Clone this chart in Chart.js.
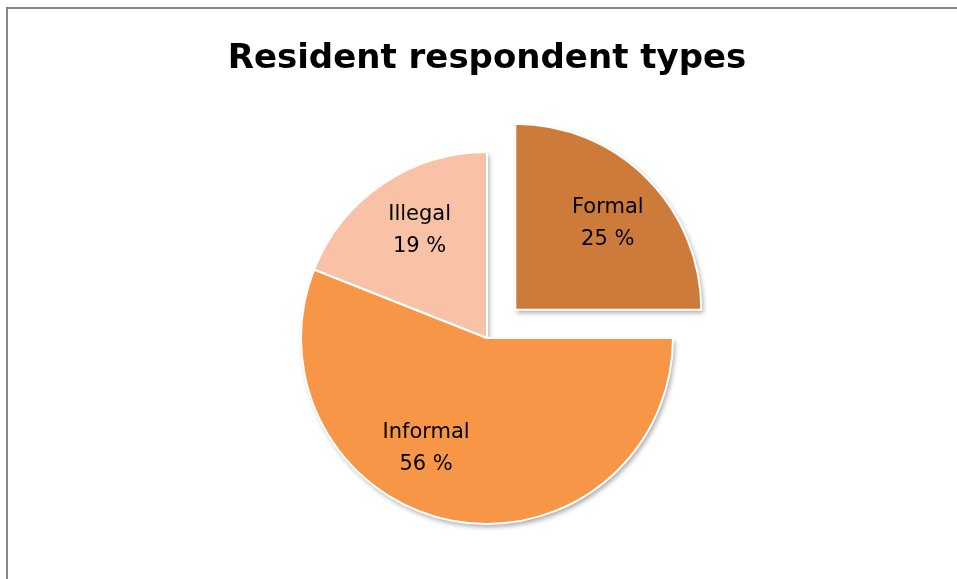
<!DOCTYPE html>
<html>
<head>
<meta charset="utf-8" />
<title>Resident respondent types</title>
<script src="https://cdn.jsdelivr.net/npm/chart.js@4.4.1/dist/chart.umd.min.js"></script>
<style>
  html,
  body {
    margin: 0;
    padding: 0;
    background: #ffffff;
    overflow: hidden;
  }
  #frame {
    position: absolute;
    left: 6px;
    top: 7px;
    width: 1000px;
    height: 700px;
    border-left: 2px solid #888888;
    border-top: 2px solid #888888;
  }
  #chart-container {
    position: absolute;
    left: 0;
    top: 0;
    width: 957px;
    height: 579px;
  }
</style>
</head>
<body>
<div id="frame"></div>
<div id="chart-container">
  <canvas id="pie-chart" width="957" height="579"></canvas>
</div>
<script>
// -----------DATA----------
const chartTitle = "Resident respondent types";
const chartLabels = ["Formal", "Informal", "Illegal"];
const chartData = [25, 56, 19];

// Slice colours (same order as labels)
const sliceColors = ["#CD7B3A", "#F79646", "#F9C1A6"];
// only "Formal" is pulled out of the pie (pixels)
const sliceOffsets = [40, 0, 0];

// Plugin - soft shadow under the slices (drawn first, fill only, so the white borders stay clean)
const shadowPlugin = {
  id: "sliceShadow",
  beforeDatasetsDraw(chart) {
    const ctx = chart.ctx;
    const meta = chart.getDatasetMeta(0);
    ctx.save();
    ctx.shadowColor = "rgba(0, 0, 0, 0.35)";
    ctx.shadowBlur = 5;
    ctx.shadowOffsetX = 2;
    ctx.shadowOffsetY = 3;
    meta.data.forEach((arc) => {
      const opts = arc.options;
      arc.options = Object.assign({}, opts, { borderWidth: 0 });
      arc.draw(ctx, chart.chartArea);
      arc.options = opts;
    });
    ctx.restore();
  },
};

// Plugin - "Label\nNN %" inside every slice, placed from the arc geometry
const sliceLabelPlugin = {
  id: "sliceLabels",
  afterDatasetsDraw(chart, args, opts) {
    const ctx = chart.ctx;
    const meta = chart.getDatasetMeta(0);
    const total = chartData.reduce((a, b) => a + b, 0);
    ctx.save();
    ctx.fillStyle = opts.color;
    ctx.font = opts.font;
    ctx.textAlign = "center";
    ctx.textBaseline = "middle";
    meta.data.forEach((arc, i) => {
      const p = arc.getProps(["x", "y", "startAngle", "endAngle", "outerRadius"], true);
      const mid = (p.startAngle + p.endAngle) / 2;
      const shift = (opts.angleShift[i] * Math.PI) / 180;
      const off = sliceOffsets[i];
      const cx = p.x + Math.cos(mid) * off;
      const cy = p.y + Math.sin(mid) * off;
      const r = p.outerRadius * opts.radiusFraction;
      const x = cx + Math.cos(mid + shift) * r;
      const y = cy + Math.sin(mid + shift) * r;
      const pct = Math.round((chartData[i] / total) * 100);
      ctx.fillText(chartLabels[i], x, y - opts.lineGap / 2);
      ctx.fillText(pct + " %", x, y + opts.lineGap / 2);
    });
    ctx.restore();
  },
};

// -------------------CHART---------------------------
const pieChartId = document.getElementById("pie-chart");

const pieChart = new Chart(pieChartId, {
  type: "pie",
  data: {
    labels: chartLabels,
    datasets: [
      {
        data: chartData,
        backgroundColor: sliceColors,
        borderColor: "#ffffff",
        borderWidth: 2,
        // Chart.js moves an arc by offset / 4
        offset: sliceOffsets.map((o) => o * 4),
        radius: 186,
      },
    ],
  },
  plugins: [shadowPlugin, sliceLabelPlugin],
  options: {
    responsive: false,
    animation: false,
    events: [],
    layout: {
      padding: {
        top: 0,
        bottom: 0,
        left: 17,
        right: 0,
      },
    },
    plugins: {
      legend: { display: false },
      tooltip: { enabled: false },
      title: {
        display: true,
        text: chartTitle,
        color: "#000000",
        font: { family: "DejaVu Sans", size: 34, weight: "bold", lineHeight: 1.2 },
        padding: { top: 38.5, bottom: 17.7 },
      },
      sliceLabels: {
        color: "#000000",
        font: "21px 'DejaVu Sans'",
        lineGap: 32,
        radiusFraction: 0.68,
        angleShift: [2, 18, 2],
      },
    },
  },
});
</script>
</body>
</html>
